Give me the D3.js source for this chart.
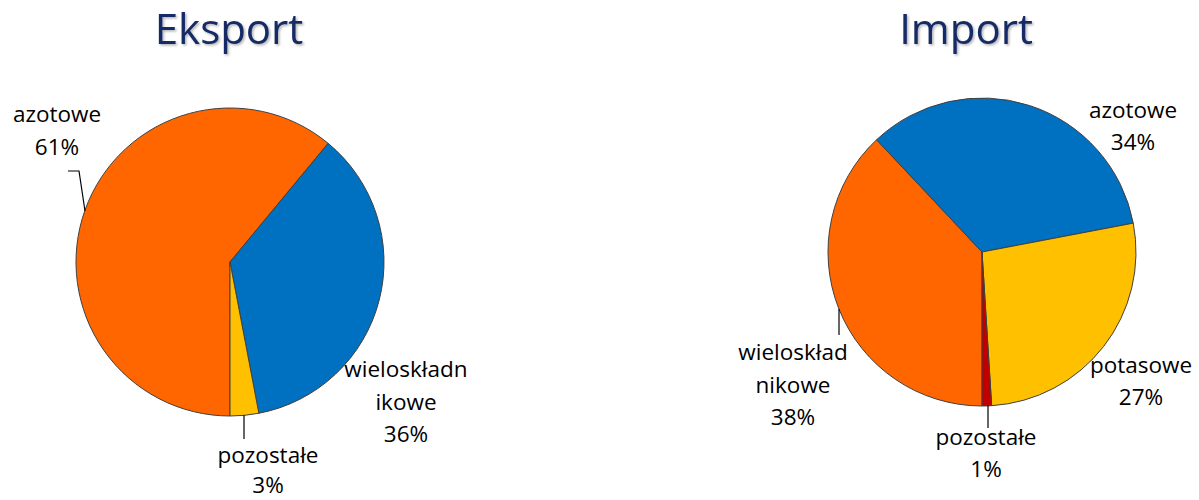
<!DOCTYPE html>
<html>
<head>
<meta charset="utf-8">
<script src="https://cdn.jsdelivr.net/npm/d3@7"></script>
<style>
  body { margin: 0; background: #fff; }
  text { font-family: "Open Sans", "DejaVu Sans", sans-serif; }
</style>
</head>
<body>
<svg id="chart" width="1199" height="500"></svg>
<script>
// Eksport data (clockwise starting from 6 o'clock)
const eksportNames = ['azotowe', 'wieloskładnikowe', 'pozostałe']
const eksportValues = [61, 36, 3]
const eksportColors = ['#FF6600', '#0070C0', '#FFC000']
const eksportLabels = [['azotowe', '61%'], ['wieloskładn', 'ikowe', '36%'], ['pozostałe', '3%']]

// Import data (clockwise starting from 6 o'clock)
const importNames = ['wieloskładnikowe', 'azotowe', 'potasowe', 'pozostałe']
const importValues = [38, 34, 27, 1]
const importColors = ['#FF6600', '#0070C0', '#FFC000', '#C00000']
const importLabels = [['wieloskład', 'nikowe', '38%'], ['azotowe', '34%'], ['potasowe', '27%'], ['pozostałe', '1%']]

const svg = d3.select('#chart')

const defs = svg.append('defs')
const shadow = defs.append('filter').attr('id', 'tshadow')
    .attr('x', '-10%').attr('y', '-10%').attr('width', '130%').attr('height', '140%')
shadow.append('feDropShadow')
    .attr('dx', 1.5).attr('dy', 1.5).attr('stdDeviation', 1.2)
    .attr('flood-color', '#000').attr('flood-opacity', 0.3)

let drawPie = function (cfg) {
    let g = svg.append('g').attr('transform', `translate(${cfg.cx},${cfg.cy})`)

    svg.append('text')
        .attr('x', cfg.titleX)
        .attr('y', 44)
        .attr('text-anchor', 'middle')
        .attr('font-size', 42)
        .attr('fill', '#172C66')
        .attr('filter', 'url(#tshadow)')
        .text(cfg.title)

    let pie = d3.pie().sort(null)
        .startAngle(Math.PI)
        .endAngle(3 * Math.PI)
    let arc = d3.arc().innerRadius(0).outerRadius(cfg.r)

    g.selectAll('path')
        .data(pie(cfg.values))
        .enter()
        .append('path')
        .attr('d', arc)
        .attr('fill', (d, i) => cfg.colors[i])
        .attr('stroke', '#404040')
        .attr('stroke-width', 1)

    // leader lines
    cfg.leaders.forEach(pts => {
        svg.append('path')
            .attr('d', d3.line()(pts))
            .attr('fill', 'none')
            .attr('stroke', '#000')
            .attr('stroke-width', 1.2)
    })

    cfg.labels.forEach((lines, i) => {
        let pos = cfg.labelPos[i]
        let t = svg.append('text')
            .attr('text-anchor', 'middle')
            .attr('font-size', 22.5)
            .attr('fill', '#000')
        lines.forEach((ln, j) => {
            t.append('tspan')
                .attr('x', pos[0])
                .attr('y', pos[1] + j * pos[2])
                .text(ln)
        })
    })
}

drawPie({
    title: 'Eksport', titleX: 229,
    cx: 230, cy: 262, r: 154,
    values: eksportValues, colors: eksportColors, labels: eksportLabels,
    labelPos: [[57, 122, 33], [406, 377, 32.5], [268, 463, 30]],
    leaders: [[[68, 171], [79, 171], [85, 211]], [[244, 415], [244, 439]]]
})

drawPie({
    title: 'Import', titleX: 966,
    cx: 982, cy: 252, r: 154,
    values: importValues, colors: importColors, labels: importLabels,
    labelPos: [[793, 360, 32.5], [1133, 118, 32], [1141, 373, 32], [986, 445, 32]],
    leaders: [[[839, 309], [839, 335]], [[988, 405], [988, 428]]]
})
</script>
</body>
</html>
